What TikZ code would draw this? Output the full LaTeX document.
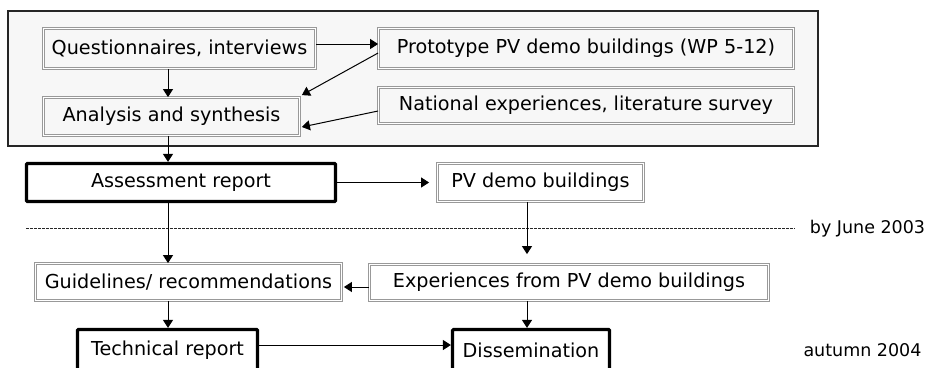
\documentclass[tikz,border=0pt]{standalone}
\usepackage{fontspec}
\setmainfont{DejaVu Sans}
\usetikzlibrary{arrows.meta}
\begin{document}
\begin{tikzpicture}[x=1pt,y=-1pt,
    font=\fontsize{19.2}{23}\selectfont,
    gbox/.style={draw=gray!80,double=white,double distance=1pt,line width=0.8pt,inner sep=0pt,fill=#1},
    gbox/.default=white,
    bbox/.style={draw=black,line width=3.2pt,rounded corners=1pt,inner sep=0pt,fill=white},
    arr/.style={line width=1pt,-{Triangle[length=8pt,width=10pt]}},
    datelabel/.style={font=\fontsize{17.5}{20}\selectfont}]
    \useasboundingbox (0,0) rectangle (928,367);
    %% work package frame
    \draw[draw=black!85,line width=1.2pt,fill=black!3] (8,11) rectangle (818,146);
    \node[gbox=black!3,minimum width=272,minimum height=40] (quest) at (179.5,48.5) {Questionnaires, interviews};
    \node[gbox=black!3,minimum width=256,minimum height=38] (analysis) at (171.5,116.5) {Analysis and synthesis};
    \node[gbox=black!3,minimum width=415,minimum height=40] (proto) at (586,48.5) {Prototype PV demo buildings (WP 5-12)};
    \node[gbox=black!3,minimum width=415,minimum height=36] (national) at (586,105.5) {National experiences, literature survey};
    %% reports and buildings
    \node[bbox,minimum width=309,minimum height=38] (assess) at (181,182.5) {Assessment report};
    \node[gbox,minimum width=206,minimum height=38] (demo) at (540.5,182.5) {PV demo buildings};
    \node[gbox,minimum width=306,minimum height=37] (guide) at (188.5,282) {Guidelines/ recommendations};
    \node[gbox,minimum width=399,minimum height=36] (exper) at (569,282.5) {Experiences from PV demo buildings};
    \node[bbox,minimum width=180,minimum height=41] (tech) at (167.5,350) {Technical report};
    \node[bbox,minimum width=157,minimum height=41] (dissem) at (531,350) {Dissemination};
    %% milestones
    \draw[black!85,line width=0.8pt,dash pattern=on 2.5pt off 1.5pt] (26,228) -- (795,228);
    \node[datelabel] (june) at (867.5,229) {by June 2003};
    \node[datelabel] (autumn) at (862.5,350) {autumn 2004};
    %% flow
    \coordinate (lspine) at (168,0);
    \coordinate (rspine) at (527,0);
    \draw[arr] ([yshift=4.5pt]quest.east) -- ([yshift=4.5pt]proto.west);
    \draw[arr] (quest.south -| lspine) -- (analysis.north -| lspine);
    \draw[arr] ([yshift=-4.5pt]proto.west) -- ([xshift=2pt,yshift=2pt]analysis.north east);
    \draw[arr] ([yshift=-5.5pt]national.west) -- ([xshift=2pt,yshift=-10.5pt]analysis.east);
    \draw[arr] (analysis.south -| lspine) -- (assess.north -| lspine);
    \draw[arr] (assess.east) -- ([xshift=-8pt]demo.west);
    \draw[arr] (demo.south -| rspine) -- ([yshift=10pt]exper.north -| rspine);
    \draw[arr] (assess.south -| lspine) -- (guide.north -| lspine);
    \draw[arr] ([yshift=-4.5pt]exper.west) -- ([xshift=2pt,yshift=-5pt]guide.east);
    \draw[arr] (guide.south -| lspine) -- (tech.north -| lspine);
    \draw[arr] ([yshift=5pt]tech.east) -- ([yshift=5pt]dissem.west);
    \draw[arr] (exper.south -| rspine) -- (dissem.north -| rspine);
\end{tikzpicture}
\end{document}
